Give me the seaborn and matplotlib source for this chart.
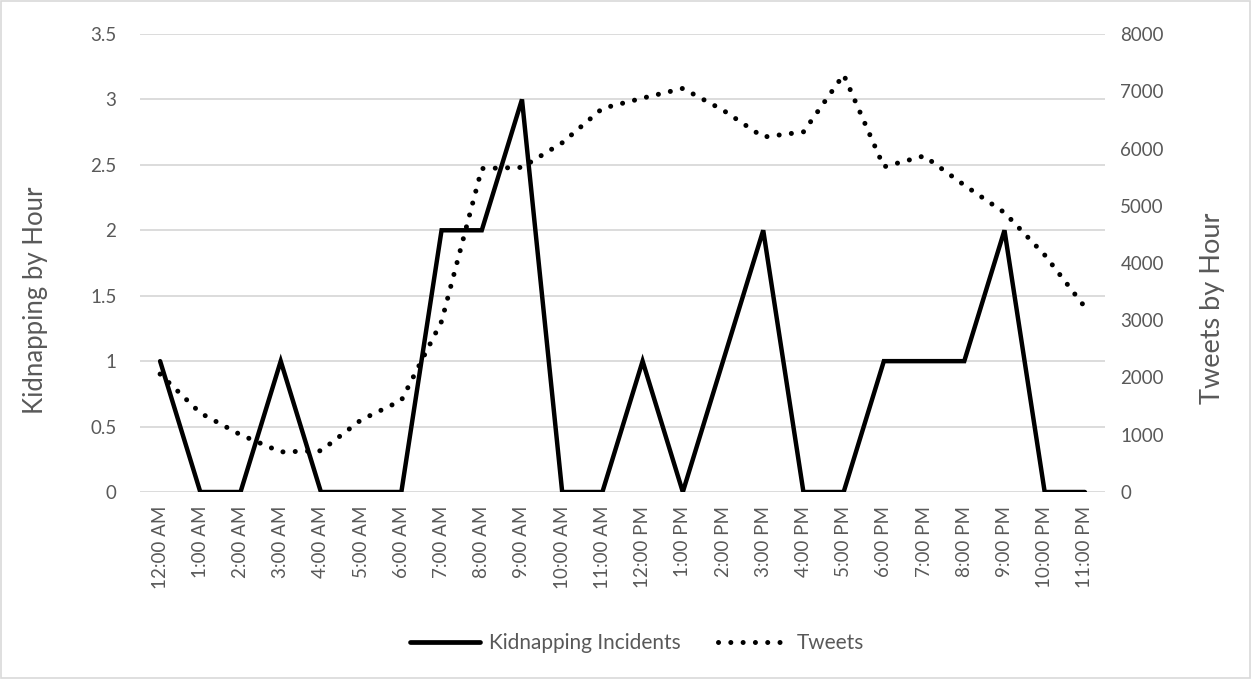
import numpy as np
import pandas as pd
import matplotlib
matplotlib.use("Agg")
import matplotlib.pyplot as plt
from matplotlib.lines import Line2D
from matplotlib.patches import Rectangle
import seaborn as sns

# Hourly labels
hours = ["12:00 AM", "1:00 AM", "2:00 AM", "3:00 AM", "4:00 AM", "5:00 AM",
         "6:00 AM", "7:00 AM", "8:00 AM", "9:00 AM", "10:00 AM", "11:00 AM",
         "12:00 PM", "1:00 PM", "2:00 PM", "3:00 PM", "4:00 PM", "5:00 PM",
         "6:00 PM", "7:00 PM", "8:00 PM", "9:00 PM", "10:00 PM", "11:00 PM"]

# Kidnapping incidents per hour (left axis)
kidnapping = [1, 0, 0, 1, 0, 0, 0, 2, 2, 3, 0, 0,
              1, 0, 1, 2, 0, 0, 1, 1, 1, 2, 0, 0]

# Tweets per hour (right axis)
tweets = [2060, 1380, 1000, 700, 720, 1260, 1600, 2980, 5650, 5670, 6100, 6700,
          6880, 7050, 6670, 6200, 6290, 7290, 5680, 5870, 5360, 4880, 4140, 3230]

left_ticks = [0, 0.5, 1, 1.5, 2, 2.5, 3, 3.5]
left_labels = ["0", "0.5", "1", "1.5", "2", "2.5", "3", "3.5"]
right_ticks = [0, 1000, 2000, 3000, 4000, 5000, 6000, 7000, 8000]

sns.set_theme(style="white")
plt.rcParams["font.family"] = ["Lato", "DejaVu Sans"]

TEXT = "#595959"
GRID = "#d9d9d9"
DOTS = (0, (0.01, 2.45))

df = pd.DataFrame({"pos": np.arange(len(hours)), "hour": hours,
                   "kidnapping": kidnapping, "tweets": tweets})

fig = plt.figure(figsize=(12.53, 6.79), dpi=100)
ax = fig.add_axes([140 / 1253, 1 - 492 / 679, 965 / 1253, 458 / 679])
ax2 = ax.twinx()

sns.lineplot(data=df, x="pos", y="kidnapping", ax=ax, color="black",
             linewidth=3.2, solid_joinstyle="miter", legend=False)
sns.lineplot(data=df, x="pos", y="tweets", ax=ax2, color="black",
             linewidth=3.6, linestyle=DOTS, dash_capstyle="round",
             legend=False)

ax.set_xlim(-0.5, len(hours) - 0.5)
ax.set_ylim(0, 3.5)
ax2.set_ylim(0, 8000)

ax.set_yticks(left_ticks)
ax.set_yticklabels(left_labels)
ax2.set_yticks(right_ticks)
ax.set_xticks(df["pos"])
ax.set_xticklabels(hours, rotation=90)

ax.yaxis.grid(True, color=GRID, linewidth=1.3)
ax.set_axisbelow(True)
ax2.grid(False)
for a in (ax, ax2):
    for s in a.spines.values():
        s.set_visible(False)
    a.tick_params(axis="both", length=0, labelsize=13.5, colors=TEXT)
ax.tick_params(axis="y", pad=17)
ax2.tick_params(axis="y", pad=11)
ax.tick_params(axis="x", pad=10)

ax.set_xlabel("")
ax.set_ylabel("Kidnapping by Hour", fontsize=18.5, color=TEXT)
ax2.set_ylabel("Tweets by Hour", fontsize=19.5, color=TEXT)
ax.yaxis.set_label_coords(-0.0953, 0.419)
ax2.yaxis.set_label_coords(1.0985, 0.402)

handles = [
    Line2D([], [], color="black", linewidth=3.4),
    Line2D([], [], color="black", linewidth=3.6, linestyle=DOTS,
           dash_capstyle="round"),
]
fig.legend(handles, ["Kidnapping Incidents", "Tweets"], loc="center",
           bbox_to_anchor=(637 / 1253, 1 - 643 / 679), ncol=2, frameon=False,
           fontsize=15, labelcolor=TEXT, handlelength=3.4, handletextpad=0.4,
           columnspacing=1.8)

fig.patches.append(Rectangle((0.001, 0.001), 0.997, 0.997,
                             transform=fig.transFigure, fill=False,
                             edgecolor=GRID, linewidth=1.2))

fig.savefig("out.png", dpi=100, facecolor="white")
